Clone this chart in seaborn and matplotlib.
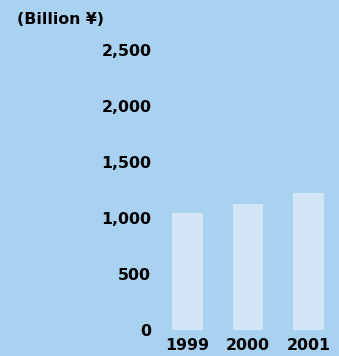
import matplotlib
matplotlib.use("Agg")
import matplotlib.pyplot as plt
import seaborn as sns
import pandas as pd

years = ["1999", "2000", "2001"]
values = [1045, 1125, 1225]
yticks = [0, 500, 1000, 1500, 2000, 2500]
ytick_labels = ["0", "500", "1,000", "1,500", "2,000", "2,500"]
unit_label = "(Billion ¥)"

bg = "#A9D1F0"
bar_color = "#D3E6F7"

sns.set_theme(style="white")
plt.rcParams["font.family"] = ["DejaVu Sans"]

W, H = 339, 356
fig = plt.figure(figsize=(W / 100, H / 100), dpi=100, facecolor=bg)
ax = fig.add_axes([157.25 / W, (H - 330) / H, 181.5 / W, 280 / H])
ax.set_facecolor(bg)

df = pd.DataFrame({"year": years, "value": values})
sns.barplot(data=df, x="year", y="value", color=bar_color, saturation=1,
            width=0.51, linewidth=0, edgecolor=bar_color, ax=ax)

ax.set_xlim(-0.5, 2.5)
ax.set_ylim(0, 2500)
ax.set_yticks(yticks)
ax.set_yticklabels(ytick_labels, fontsize=11.3, fontweight="bold", color="black")
for lbl in ax.get_xticklabels():
    lbl.set_fontsize(11.3)
    lbl.set_fontweight("bold")
    lbl.set_color("black")
ax.tick_params(axis="both", length=0)
ax.tick_params(axis="y", pad=4.3)
ax.tick_params(axis="x", pad=6)
ax.set_xlabel("")
ax.set_ylabel("")
for s in ax.spines.values():
    s.set_visible(False)

fig.text(17 / W, 1 - 19 / H, unit_label, ha="left", va="center",
         fontsize=11.3, fontweight="bold", color="black")

fig.savefig("out.png", dpi=100, facecolor=bg)
